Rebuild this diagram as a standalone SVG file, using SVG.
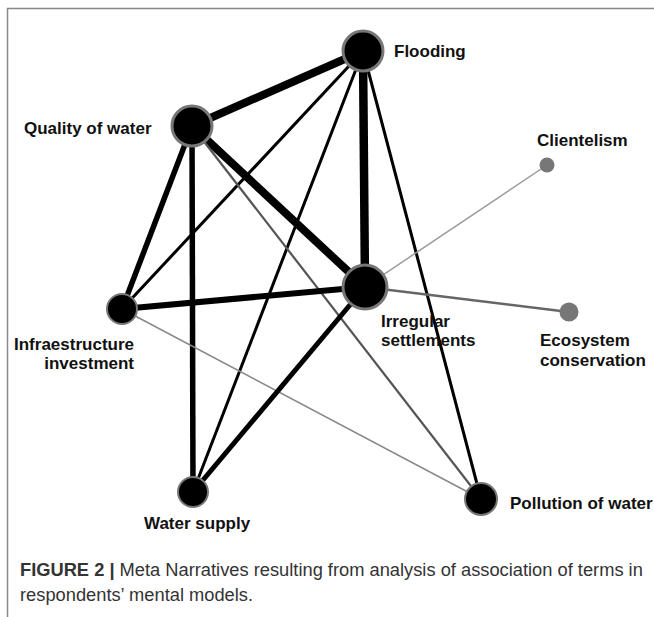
<svg xmlns="http://www.w3.org/2000/svg" width="654" height="617" viewBox="0 0 654 617">
<style>
.lbl{font-family:"Liberation Sans",Arial,sans-serif;font-weight:bold;font-size:17px;fill:#111}
.cap{font-family:"Liberation Sans",Arial,sans-serif;font-size:18.3px;fill:#333}
.node{fill:#000;stroke:#777;stroke-width:3}
.small{fill:#000;stroke:#777;stroke-width:2}
.dot{fill:#777}
.e{stroke-linecap:butt;fill:none}
</style>
<rect width="654" height="617" fill="#fff"/>
<path d="M7.5 617 V8.5 H654" fill="none" stroke="#888" stroke-width="1.5"/>
<g id="connectors" class="e">
<line x1="363" y1="51" x2="192" y2="126" stroke="#000" stroke-width="8"/>
<line x1="363" y1="51" x2="365" y2="287" stroke="#000" stroke-width="8.5"/>
<line x1="363" y1="51" x2="122" y2="309" stroke="#000" stroke-width="3"/>
<line x1="363" y1="51" x2="193" y2="492" stroke="#000" stroke-width="3"/>
<line x1="363" y1="51" x2="481" y2="499" stroke="#000" stroke-width="3"/>
<line x1="192" y1="126" x2="365" y2="287" stroke="#000" stroke-width="8"/>
<line x1="192" y1="126" x2="122" y2="309" stroke="#000" stroke-width="5.5"/>
<line x1="192" y1="126" x2="193" y2="492" stroke="#000" stroke-width="5.5"/>
<line x1="192" y1="126" x2="481" y2="499" stroke="#555" stroke-width="2.2"/>
<line x1="122" y1="309" x2="365" y2="287" stroke="#000" stroke-width="6"/>
<line x1="122" y1="309" x2="481" y2="499" stroke="#888" stroke-width="1.5"/>
<line x1="365" y1="287" x2="193" y2="492" stroke="#000" stroke-width="5"/>
<line x1="365" y1="287" x2="547" y2="165" stroke="#999" stroke-width="1.5"/>
<line x1="365" y1="287" x2="569" y2="312" stroke="#666" stroke-width="2.5"/>
</g>
<g id="flooding"><circle class="node" cx="363" cy="51" r="20"/><text class="lbl" x="394" y="57">Flooding</text></g>
<g id="quality-of-water"><circle class="node" cx="192" cy="126" r="20"/><text class="lbl" x="24" y="134">Quality of water</text></g>
<g id="clientelism"><circle class="dot" cx="547" cy="165" r="7.5"/><text class="lbl" x="537" y="146">Clientelism</text></g>
<g id="irregular-settlements"><circle class="node" cx="365" cy="287" r="22"/><text class="lbl" x="381" y="327">Irregular</text><text class="lbl" x="381" y="346">settlements</text></g>
<g id="infraestructure-investment"><circle class="small" cx="122" cy="309" r="15"/><text class="lbl" x="134" y="350" text-anchor="end">Infraestructure</text><text class="lbl" x="134" y="369" text-anchor="end">investment</text></g>
<g id="ecosystem-conservation"><circle class="dot" cx="569" cy="312" r="9.5"/><text class="lbl" x="540" y="346">Ecosystem</text><text class="lbl" x="540" y="366">conservation</text></g>
<g id="water-supply"><circle class="small" cx="193" cy="492" r="15"/><text class="lbl" x="144" y="529">Water supply</text></g>
<g id="pollution-of-water"><circle class="small" cx="481" cy="499" r="16"/><text class="lbl" x="510" y="509">Pollution of water</text></g>
<text class="cap" x="20" y="576"><tspan font-weight="bold">FIGURE 2 |</tspan> Meta Narratives resulting from analysis of association of terms in</text>
<text class="cap" x="20" y="601">respondents’ mental models.</text>
</svg>
